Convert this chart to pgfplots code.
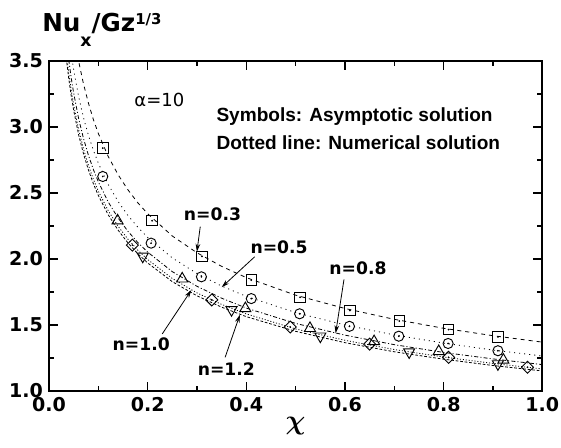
\documentclass[border=0pt]{standalone}
\usepackage{fontspec}
\setmainfont{Liberation Sans}
\newfontfamily\dejavu{DejaVu Sans}
\usepackage{pgfplots}
\pgfplotsset{compat=1.18}
\usetikzlibrary{arrows.meta}

\tikzset{
  lbl/.style={font=\dejavu\bfseries\fontsize{12.9}{13}\selectfont, anchor=base west, inner sep=0pt},
  pt/.style={-{Stealth[length=6pt,width=3.5pt]}, line width=0.6pt},
}

\begin{document}
\begin{tikzpicture}
\begin{axis}[
  name=ax,
  scale only axis,
  width=370pt, height=247.5pt,
  xmin=0, xmax=1, ymin=1, ymax=3.5,
  xtick={0,0.2,...,1.0},
  ytick={1,1.5,...,3.5},
  minor xtick={0.1,0.3,...,0.9},
  minor ytick={1.25,1.75,...,3.25},
  tick align=inside,
  major tick length=6.75pt,
  minor tick length=4pt,
  every tick/.style={black, line width=0.9pt},
  axis line style={line width=1.3pt},
  xticklabel style={font=\dejavu\bfseries\fontsize{14.3}{15}\selectfont, yshift=-1.5pt},
  yticklabel style={font=\dejavu\bfseries\fontsize{14.3}{15}\selectfont, xshift=-1pt},
  /pgf/number format/assume math mode=true,
  /pgf/number format/fixed,
  /pgf/number format/fixed zerofill,
  /pgf/number format/precision=1,
  xlabel={$\chi$},
  xlabel style={font=\fontsize{21}{21}\selectfont\boldmath, yshift=3pt},
  clip=true,
]

% numerical solutions
\addplot[black, line width=0.6pt, dash pattern=on 3pt off 3pt] coordinates {
 (0.055,3.602) (0.06,3.499) (0.07,3.325) (0.08,3.180) (0.09,3.056) (0.10,2.951)
 (0.12,2.777) (0.14,2.639) (0.16,2.524) (0.18,2.426) (0.20,2.343) (0.25,2.174)
 (0.30,2.047) (0.35,1.944) (0.40,1.859) (0.50,1.726) (0.60,1.625) (0.70,1.543)
 (0.80,1.475) (0.90,1.419) (1.00,1.370)};
\addplot[black, line width=0.6pt, dash pattern=on 0.8pt off 3pt] coordinates {
 (0.045,3.556) (0.05,3.434) (0.06,3.231) (0.07,3.070) (0.08,2.936) (0.09,2.823)
 (0.10,2.725) (0.12,2.565) (0.14,2.436) (0.16,2.330) (0.18,2.241) (0.20,2.163)
 (0.25,2.008) (0.30,1.890) (0.35,1.795) (0.40,1.717) (0.50,1.594) (0.60,1.500)
 (0.70,1.425) (0.80,1.363) (0.90,1.310) (1.00,1.265)};
\addplot[black, line width=0.6pt, dash pattern=on 3pt off 1.6pt on 0.8pt off 1.6pt] coordinates {
 (0.04,3.509) (0.045,3.373) (0.05,3.257) (0.06,3.065) (0.07,2.912) (0.08,2.785)
 (0.09,2.677) (0.10,2.585) (0.12,2.432) (0.14,2.311) (0.16,2.210) (0.18,2.125)
 (0.20,2.052) (0.25,1.904) (0.30,1.793) (0.35,1.703) (0.40,1.628) (0.50,1.512)
 (0.60,1.423) (0.70,1.351) (0.80,1.292) (0.90,1.243) (1.00,1.200)};
\addplot[black, line width=0.6pt, dash pattern=on 0.8pt off 1.4pt] coordinates {
 (0.035,3.568) (0.04,3.412) (0.045,3.280) (0.05,3.167) (0.06,2.981) (0.07,2.832)
 (0.08,2.709) (0.09,2.604) (0.10,2.514) (0.12,2.366) (0.14,2.248) (0.16,2.150)
 (0.18,2.067) (0.20,1.996) (0.25,1.852) (0.30,1.743) (0.35,1.656) (0.40,1.584)
 (0.50,1.470) (0.60,1.384) (0.70,1.314) (0.80,1.257) (0.90,1.209) (1.00,1.167)};
\addplot[black, line width=0.6pt, dash pattern=on 2pt off 1.4pt] coordinates {
 (0.035,3.522) (0.04,3.368) (0.045,3.238) (0.05,3.127) (0.06,2.942) (0.07,2.796)
 (0.08,2.674) (0.09,2.570) (0.10,2.481) (0.12,2.335) (0.14,2.219) (0.16,2.122)
 (0.18,2.040) (0.20,1.970) (0.25,1.828) (0.30,1.721) (0.35,1.635) (0.40,1.563)
 (0.50,1.452) (0.60,1.366) (0.70,1.297) (0.80,1.241) (0.90,1.193) (1.00,1.152)};

% asymptotic solutions
\addplot[only marks, mark=square, mark size=3.9pt, mark options={black, line width=0.7pt, fill=white}] coordinates {
 (0.109,2.84) (0.209,2.29) (0.310,2.02) (0.410,1.84) (0.509,1.71) (0.610,1.61)
 (0.710,1.53) (0.810,1.465) (0.910,1.41)};
\addplot[only marks, mark=o, mark size=3.8pt, mark options={black, line width=0.7pt}] coordinates {
 (0.109,2.625) (0.207,2.12) (0.309,1.865) (0.410,1.70) (0.508,1.585) (0.609,1.49)
 (0.709,1.415) (0.809,1.36) (0.910,1.305)};
\addplot[only marks, mark=triangle, mark size=4.8pt, mark options={black, line width=0.7pt}] coordinates {
 (0.139,2.29) (0.270,1.85) (0.398,1.625) (0.529,1.475) (0.659,1.375) (0.790,1.30)
 (0.921,1.235)};
\addplot[only marks, mark=square, mark size=3.2pt, mark options={black, line width=0.7pt, rotate=45}] coordinates {
 (0.169,2.105) (0.330,1.69) (0.489,1.485) (0.650,1.355) (0.810,1.255) (0.970,1.18)};
\addplot[only marks, mark=triangle, mark size=4.8pt, mark options={black, line width=0.7pt, rotate=180}] coordinates {
 (0.190,2.02) (0.370,1.615) (0.550,1.415) (0.730,1.295) (0.910,1.205)};
\addplot[only marks, mark=*, mark size=0.45pt, mark options={black}] coordinates {
 (0.109,2.84) (0.209,2.29) (0.310,2.02) (0.410,1.84) (0.509,1.71) (0.610,1.61)
 (0.710,1.53) (0.810,1.465) (0.910,1.41)
 (0.109,2.625) (0.207,2.12) (0.309,1.865) (0.410,1.70) (0.508,1.585) (0.609,1.49)
 (0.709,1.415) (0.809,1.36) (0.910,1.305)
 (0.169,2.105) (0.330,1.69) (0.489,1.485) (0.650,1.355) (0.810,1.255) (0.970,1.18)};

% annotations
\node[anchor=base west, inner sep=0pt, font=\dejavu\fontsize{13.5}{14}\selectfont] at (axis cs:0.1727,3.159) {α=10};
\node[anchor=base west, inner sep=0pt, font=\bfseries\fontsize{14.3}{15}\selectfont] at (axis cs:0.339,3.04) {Symbols: Asymptotic solution};
\node[anchor=base west, inner sep=0pt, font=\bfseries\fontsize{14.3}{15}\selectfont] at (axis cs:0.339,2.826) {Dotted line: Numerical solution};

\node[lbl] at (axis cs:0.273,2.288) {n=0.3};
\node[lbl] at (axis cs:0.408,2.045) {n=0.5};
\node[lbl] at (axis cs:0.568,1.879) {n=0.8};
\node[lbl] at (axis cs:0.1285,1.303) {n=1.0};
\node[lbl] at (axis cs:0.301,1.114) {n=1.2};

\draw[pt] (axis cs:0.3066,2.245) -- (axis cs:0.2998,2.055);
\draw[pt] (axis cs:0.417,2.017) -- (axis cs:0.350,1.786);
\draw[pt] (axis cs:0.598,1.846) -- (axis cs:0.581,1.437);
\draw[pt] (axis cs:0.2295,1.432) -- (axis cs:0.2886,1.765);
\draw[pt] (axis cs:0.357,1.255) -- (axis cs:0.387,1.578);
\end{axis}

\node[anchor=base west, inner sep=0pt, font=\dejavu\bfseries\fontsize{18.5}{19}\selectfont]
  at ([xshift=-5.25pt,yshift=21.75pt]ax.north west)
  {Nu\raisebox{-11.25pt}{\fontsize{13}{13}\selectfont x}/Gz\raisebox{5.8pt}{\fontsize{11.2}{12}\selectfont 1/3}};

\pgfresetboundingbox
\path[use as bounding box] ([xshift=-36.75pt,yshift=-42.75pt]ax.south west)
  rectangle ([xshift=14pt,yshift=45.75pt]ax.north east);
\end{tikzpicture}
\end{document}
